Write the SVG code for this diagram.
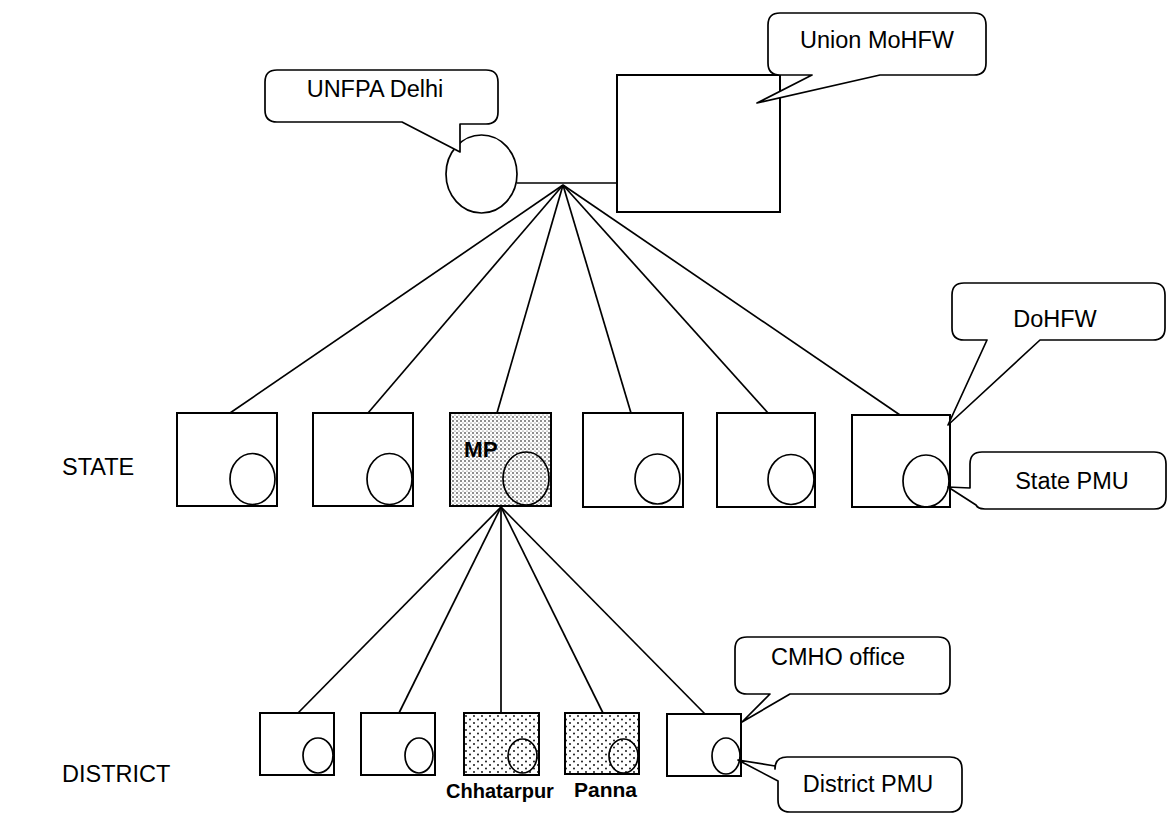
<svg xmlns="http://www.w3.org/2000/svg" width="1169" height="815" viewBox="0 0 1169 815">
<style>
.bx{fill:#fff;stroke:#000;stroke-width:2}
.el{fill:none;stroke:#000;stroke-width:1.7}
.ln{stroke:#000;stroke-width:1.7;fill:none}
.co{fill:#fff;stroke:#000;stroke-width:1.7;stroke-linejoin:round}
.t{font-family:"Liberation Sans",Arial,sans-serif;font-size:23.5px;fill:#000}
.tb{font-family:"Liberation Sans",Arial,sans-serif;font-weight:bold;fill:#000}
</style>
<defs>
<pattern id="dense" width="4" height="4" patternUnits="userSpaceOnUse">
<rect width="4" height="4" fill="#fff"/>
<circle cx="1" cy="1" r="0.8" fill="#000"/>
<circle cx="3" cy="3" r="0.6" fill="#555"/>
</pattern>
<pattern id="sparse" width="8" height="7" patternUnits="userSpaceOnUse">
<rect width="8" height="7" fill="#fff"/>
<circle cx="2" cy="2" r="0.9" fill="#000"/>
<circle cx="6" cy="5.5" r="0.9" fill="#000"/>
</pattern>
</defs>
<rect width="1169" height="815" fill="#fff"/>

<g id="connectors">
<line class="ln" x1="517" y1="183" x2="617" y2="183"/>
<line class="ln" x1="563" y1="185" x2="230" y2="413"/>
<line class="ln" x1="563" y1="185" x2="368" y2="413"/>
<line class="ln" x1="563" y1="185" x2="497" y2="413"/>
<line class="ln" x1="563" y1="185" x2="631" y2="413"/>
<line class="ln" x1="563" y1="185" x2="768" y2="413"/>
<line class="ln" x1="563" y1="185" x2="900" y2="415"/>
<line class="ln" x1="501" y1="507" x2="298" y2="713"/>
<line class="ln" x1="501" y1="507" x2="399" y2="713"/>
<line class="ln" x1="501" y1="507" x2="501" y2="713"/>
<line class="ln" x1="501" y1="507" x2="603" y2="713"/>
<line class="ln" x1="501" y1="507" x2="705" y2="714"/>
</g>

<g id="unfpa">
<ellipse class="el" cx="481.5" cy="174" rx="35.5" ry="39"/>
</g>
<g id="union">
<rect class="bx" x="617" y="75" width="163" height="137"/>
</g>

<g id="state1"><rect class="bx" x="177" y="413" width="100" height="93"/><ellipse class="el" cx="252.5" cy="479" rx="22.5" ry="25.5"/></g>
<g id="state2"><rect class="bx" x="313" y="413" width="100" height="93"/><ellipse class="el" cx="389.5" cy="479" rx="22.5" ry="25.5"/></g>
<g id="state-mp"><rect x="450" y="413" width="101" height="93" fill="url(#dense)" stroke="#000" stroke-width="2"/><ellipse cx="526" cy="478.5" rx="23" ry="26.5" fill="url(#dense)" stroke="#000" stroke-width="1.7"/><text class="tb" x="464" y="457" font-size="22.5">MP</text></g>
<g id="state4"><rect class="bx" x="583" y="413" width="100" height="94"/><ellipse class="el" cx="657.5" cy="479" rx="22.5" ry="25"/></g>
<g id="state5"><rect class="bx" x="717" y="413" width="98" height="94"/><ellipse class="el" cx="791" cy="479.5" rx="23" ry="25"/></g>
<g id="state6"><rect class="bx" x="852" y="415" width="98" height="92"/><ellipse class="el" cx="926" cy="481" rx="23" ry="26"/></g>

<g id="dist1"><rect class="bx" x="260" y="713" width="74" height="62"/><ellipse class="el" cx="318" cy="755.5" rx="15" ry="17.5"/></g>
<g id="dist2"><rect class="bx" x="361" y="713" width="74" height="62"/><ellipse class="el" cx="419" cy="755.5" rx="14" ry="17.5"/></g>
<g id="dist-chhatarpur"><rect x="464" y="713" width="75" height="62" fill="url(#sparse)" stroke="#000" stroke-width="2"/><ellipse cx="522.5" cy="756" rx="14.5" ry="17" fill="url(#sparse)" stroke="#000" stroke-width="1.7"/><text class="tb" x="500" y="798" font-size="20" text-anchor="middle">Chhatarpur</text></g>
<g id="dist-panna"><rect x="565" y="713" width="74" height="61" fill="url(#sparse)" stroke="#000" stroke-width="2"/><ellipse cx="623.5" cy="756" rx="14.5" ry="17" fill="url(#sparse)" stroke="#000" stroke-width="1.7"/><text class="tb" x="605.5" y="797" font-size="21" text-anchor="middle">Panna</text></g>
<g id="dist5"><rect class="bx" x="667" y="714" width="74" height="62"/><ellipse class="el" cx="726" cy="756" rx="14" ry="18"/></g>

<g id="callout-unfpa">
<path class="co" d="M277,70 H486 Q498,70 498,82 V112 Q498,124 486,124 H460 V152 L402,122 H277 Q265,122 265,110 V82 Q265,70 277,70 Z"/>
<text class="t" x="375" y="97" text-anchor="middle" font-size="24">UNFPA Delhi</text>
</g>
<g id="callout-union">
<path class="co" d="M780,13 H974 Q986,13 986,25 V63 Q986,75 974,75 H880 L757,103 L812,75 H780 Q768,75 768,63 V25 Q768,13 780,13 Z"/>
<text class="t" x="877" y="48" text-anchor="middle" font-size="22.5">Union MoHFW</text>
</g>
<g id="callout-dohfw">
<path class="co" d="M964,283 H1153 Q1165,283 1165,295 V328 Q1165,340 1153,340 H1040 L948,425 L987,340 H964 Q952,340 952,328 V295 Q952,283 964,283 Z"/>
<text class="t" x="1055" y="327" text-anchor="middle">DoHFW</text>
</g>
<g id="callout-statepmu">
<path class="co" d="M982,452 H1154 Q1166,452 1166,464 V497 Q1166,509 1154,509 H985 Q978,509 976,505 L948,487 L970,488 V464 Q970,452 982,452 Z"/>
<text class="t" x="1072" y="489" text-anchor="middle">State PMU</text>
</g>
<g id="callout-cmho">
<path class="co" d="M747,637 H938 Q950,637 950,649 V682 Q950,694 938,694 H790 L742,722 L770,694 H747 Q735,694 735,682 V649 Q735,637 747,637 Z"/>
<text class="t" x="838" y="665" text-anchor="middle">CMHO office</text>
</g>
<g id="callout-districtpmu">
<path class="co" d="M787,757 H950 Q962,757 962,769 V800 Q962,812 950,812 H790 Q778,812 778,800 V781 L738,760 L775,766 V769 Q775,757 787,757 Z"/>
<text class="t" x="868" y="792" text-anchor="middle">District PMU</text>
</g>

<g id="labels">
<text class="t" x="62" y="475" font-size="20">STATE</text>
<text class="t" x="62" y="782" font-size="21">DISTRICT</text>
</g>
</svg>
